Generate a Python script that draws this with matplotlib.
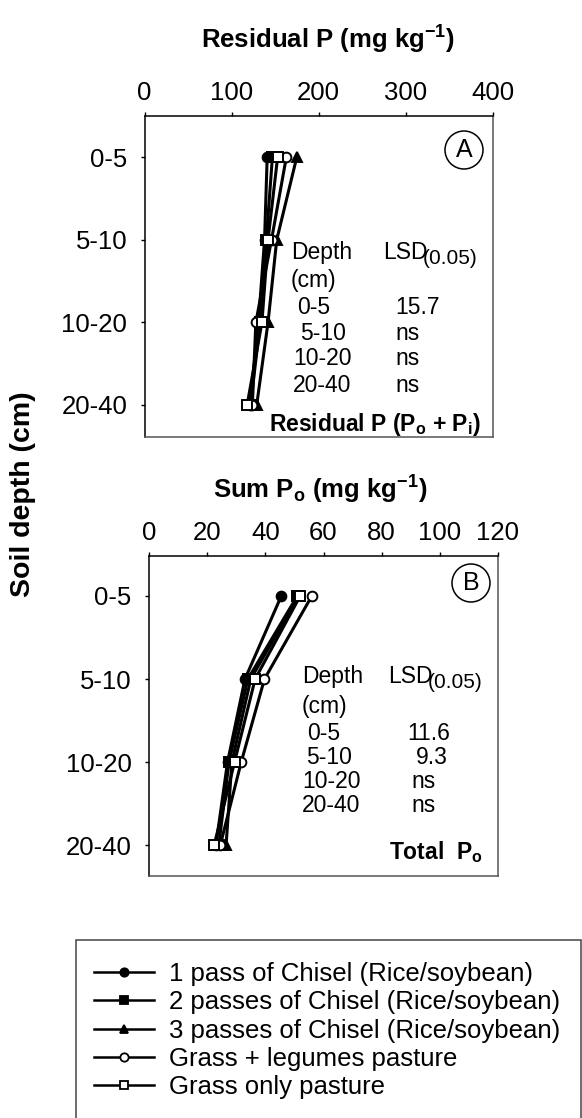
import matplotlib
matplotlib.use("Agg")
import matplotlib.pyplot as plt
from matplotlib.lines import Line2D
from matplotlib.patches import Ellipse, Rectangle

plt.rcParams['font.family'] = ['Liberation Sans', 'DejaVu Sans']
plt.rcParams['mathtext.fontset'] = 'custom'
plt.rcParams['mathtext.rm'] = 'Liberation Sans'
plt.rcParams['mathtext.bf'] = 'Liberation Sans:bold'
plt.rcParams['mathtext.it'] = 'Liberation Sans:italic'

# ---- data ----
depths = ['0-5', '5-10', '10-20', '20-40']
series_names = ['1 pass of Chisel (Rice/soybean)',
                '2 passes of Chisel (Rice/soybean)',
                '3 passes of Chisel (Rice/soybean)',
                'Grass + legumes pasture',
                'Grass only pasture']

# residual P (mg/kg)
resid_chisel1 = [141, 138, 131, 121]
resid_chisel2 = [147, 140, 133, 122]
resid_chisel3 = [175, 152, 142, 129]
resid_grass_leg = [163, 146, 128, 124]
resid_grass = [153, 142, 135, 118]

# sum Po (mg/kg)
po_chisel1 = [45.5, 33, 27, 23]
po_chisel2 = [51, 34, 27.5, 24]
po_chisel3 = [51.5, 35, 28.5, 26.5]
po_grass_leg = [56, 39.7, 31.7, 24.5]
po_grass = [52, 36.5, 29.4, 22.4]

lsd_a = ['15.7', 'ns', 'ns', 'ns']
lsd_b = ['11.6', '9.3', 'ns', 'ns']

# marker style per series: (marker, facecolor)
styles = [('o', 'black'), ('s', 'black'), ('^', 'black'),
          ('o', 'white'), ('s', 'white')]

W, H = 582, 1118
fig = plt.figure(figsize=(W / 100, H / 100), dpi=100)


def fx(x):
    return x / W


def fy(y):
    return 1 - y / H


def make_axes(left, right, top, bottom):
    return fig.add_axes([fx(left), fy(bottom), (right - left) / W, (bottom - top) / H])


def draw_panel(ax, series, xmax, xstep, ylim):
    ypos = list(range(len(depths)))
    for vals, (mk, fc) in zip(series, styles):
        ax.plot(vals, ypos, color='black', lw=2.2, marker=mk, ms=7,
                mfc=fc, mec='black', mew=1.4, zorder=3 if fc == 'white' else 2)
    ax.set_xlim(0, xmax)
    ax.set_xticks(range(0, xmax + 1, xstep))
    ax.set_yticks(ypos)
    ax.set_yticklabels(depths)
    ax.set_ylim(*ylim)
    ax.xaxis.tick_top()
    ax.tick_params(axis='x', direction='out', length=3, width=1, pad=5, labelsize=18.5)
    ax.tick_params(axis='y', direction='out', length=3, width=1, pad=9.5, labelsize=18.5)
    for s in ['right', 'bottom']:
        ax.spines[s].set_color('#555555')
    for s in ax.spines.values():
        s.set_linewidth(1.1)


axA = make_axes(144.5, 492.5, 116, 437)
draw_panel(axA, [resid_chisel1, resid_chisel2, resid_chisel3, resid_grass_leg, resid_grass],
           400, 100, (3.39, -0.5))

axB = make_axes(149, 498, 556, 876)
draw_panel(axB, [po_chisel1, po_chisel2, po_chisel3, po_grass_leg, po_grass],
           120, 20, (3.37, -0.48))

# axis titles
fig.text(fx(328), fy(40), r'Residual P (mg kg$^{\mathbf{-1}}$)', ha='center', va='center',
         fontsize=18.5, fontweight='bold')
fig.text(fx(320), fy(490), r'Sum P$_{\mathbf{o}}$ (mg kg$^{\mathbf{-1}}$)', ha='center', va='center',
         fontsize=18.5, fontweight='bold')
fig.text(fx(23), fy(494), 'Soil depth (cm)', rotation=90, ha='center', va='center',
         fontsize=20.5, fontweight='bold')

# panel letters in circles
for (cx, cy, lab) in [(464, 150, 'A'), (471, 583, 'B')]:
    fig.add_artist(Ellipse((fx(cx), fy(cy)), 38 / W, 38 / H, transform=fig.transFigure,
                           fill=False, ec='black', lw=1.1))
    fig.text(fx(cx), fy(cy), lab, ha='center', va='center', fontsize=18)

# LSD tables
tfs = 16.5


def lsd_table(x_depth, x_lsd, rows_y, lsd_vals, depth_x_off, val_x_off):
    fig.text(fx(x_depth), fy(rows_y[0]), 'Depth', ha='left', va='center', fontsize=tfs)
    fig.text(fx(x_lsd), fy(rows_y[0] + 6), 'LSD', ha='left', va='baseline', fontsize=tfs)
    fig.text(fx(x_lsd + 40), fy(rows_y[0] + 11), '(0.05)', ha='left', va='baseline', fontsize=15)
    fig.text(fx(x_depth), fy(rows_y[1]), '(cm)', ha='left', va='center', fontsize=tfs)
    for i, (d, v) in enumerate(zip(depths, lsd_vals)):
        yy = rows_y[i + 2]
        fig.text(fx(x_depth + depth_x_off[i]), fy(yy), d, ha='left', va='center', fontsize=tfs)
        fig.text(fx(x_lsd + val_x_off[i]), fy(yy), v, ha='left', va='center', fontsize=tfs)


lsd_table(291, 383, [253, 280, 307, 333, 359, 385], lsd_a, [6, 9, 2, 2], [12, 12, 12, 12])
lsd_table(302, 388, [677, 707, 733, 757, 781, 805], lsd_b, [5, 4, 0, 0], [19, 28, 23, 23])

fig.text(fx(481), fy(425), r'Residual P (P$_{\mathbf{o}}$ + P$_{\mathbf{i}}$)', ha='right',
         va='center', fontsize=16.5, fontweight='bold')
fig.text(fx(483), fy(852), r'Total  P$_{\mathbf{o}}$', ha='right', va='center',
         fontsize=16.5, fontweight='bold')

# legend box + legend
fig.add_artist(Rectangle((fx(76), fy(1125)), (W - 1.5 - 76) / W, (1125 - 940) / H,
                         transform=fig.transFigure, fill=False, ec='#444444', lw=1.1))
handles = [Line2D([], [], color='black', lw=1.8, marker=mk, ms=6, mfc=fc, mec='black', mew=1.3)
           for mk, fc in styles]
fig.legend(handles, series_names, loc='upper left', bbox_to_anchor=(fx(94), fy(962)),
           frameon=False, fontsize=18.5, handlelength=2.33, handletextpad=0.58,
           labelspacing=0.17, borderpad=0, borderaxespad=0)

fig.savefig('out.png', dpi=100)
